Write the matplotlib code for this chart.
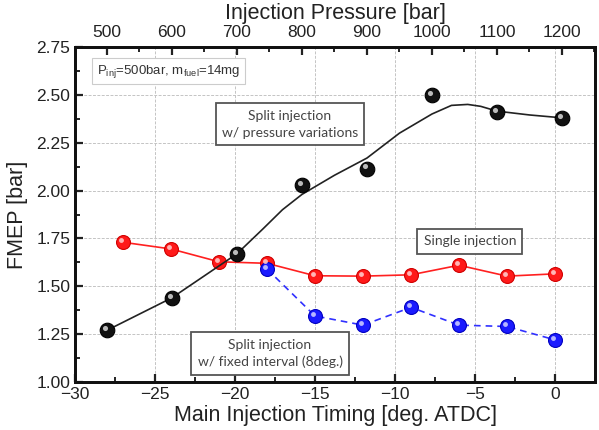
import numpy as np
import matplotlib
matplotlib.use("Agg")
import matplotlib.pyplot as plt
from matplotlib.ticker import MultipleLocator
from matplotlib.transforms import offset_copy

plt.rcParams['font.family'] = ['Liberation Sans', 'DejaVu Sans']

# single injection (red), main injection timing [deg. ATDC]
single_timing = [-27, -24, -21, -18, -15, -12, -9, -6, -3, 0]
single_fmep = [1.73, 1.695, 1.628, 1.62, 1.555, 1.553, 1.56, 1.61, 1.553, 1.565]

# split injection, fixed interval 8 deg (blue)
fixed_timing = [-18, -15, -12, -9, -6, -3, 0]
fixed_fmep = [1.59, 1.345, 1.297, 1.39, 1.297, 1.29, 1.22]

# split injection with pressure variations (black), injection pressure [bar]
press_bar = [500, 600, 700, 800, 900, 1000, 1100, 1200]
press_fmep = [1.27, 1.44, 1.67, 2.03, 2.115, 2.50, 2.41, 2.38]

# smooth fitted line through the black points
press_curve_bar = [500, 600, 700, 740, 770, 800, 850, 900, 950, 1000, 1030, 1055, 1075, 1100, 1150, 1200]
press_curve_fmep = [1.27, 1.44, 1.67, 1.80, 1.90, 1.98, 2.08, 2.17, 2.30, 2.40, 2.445, 2.45, 2.44, 2.415, 2.395, 2.38]


def sphere(ax, x, y, face, edge, shine, ms):
    ax.plot(x, y, 'o', ms=ms, mfc=face, mec=edge, mew=0.8, zorder=5)
    hl = offset_copy(ax.transData, fig=ax.figure, x=-1.6, y=1.6, units='points')
    ax.plot(x, y, 'o', ms=ms * 0.35, mfc=shine, mec='none', alpha=0.9,
            transform=hl, zorder=6)


fig = plt.figure(figsize=(5.99, 4.30), dpi=100)
ax = fig.add_axes([75 / 599, 48 / 430, 520 / 599, 335 / 430])

ax.set_xlim(-30, 2.5)
ax.set_ylim(1.0, 2.75)
ax.xaxis.set_major_locator(MultipleLocator(5))
ax.xaxis.set_minor_locator(MultipleLocator(2.5))
ax.yaxis.set_major_locator(MultipleLocator(0.25))
ax.yaxis.set_minor_locator(MultipleLocator(0.125))
ax.grid(True, which='major', color='#c4c4c4', ls=(0, (3, 1.5)), lw=0.7)
ax.set_axisbelow(True)

ax.tick_params(which='both', direction='in', top=False, right=False,
               labelsize=12.5, colors='#222222')
ax.tick_params(which='major', length=6, width=1.6)
ax.tick_params(which='minor', length=3.5, width=1.4)
for s in ax.spines.values():
    s.set_linewidth(2.0)
    s.set_color('#111111')

ax.set_xlabel('Main Injection Timing [deg. ATDC]', fontsize=15.5, color='#222222', labelpad=2)
ax.set_ylabel('FMEP [bar]', fontsize=15.5, color='#222222', labelpad=6)

# red and blue series
ax.plot(single_timing, single_fmep, '-', color='#ff2020', lw=1.2, zorder=3)
sphere(ax, single_timing, single_fmep, '#ff1a1a', '#d00000', '#ffc8c8', 10)
ax.plot(fixed_timing, fixed_fmep, '--', color='#3030ff', lw=1.2, dashes=(4, 3), zorder=3)
sphere(ax, fixed_timing, fixed_fmep, '#1a1aff', '#0000c0', '#c8c8ff', 10)

# top axis: injection pressure
ax2 = ax.twiny()
ax2.set_xlim(450.8, 1250.8)
ax2.set_ylim(1.0, 2.75)
ax2.xaxis.set_major_locator(MultipleLocator(100))
ax2.xaxis.set_minor_locator(MultipleLocator(50))
ax2.tick_params(which='both', direction='in', labelsize=12.5, colors='#222222', pad=5)
ax2.tick_params(which='major', length=6, width=1.6)
ax2.tick_params(which='minor', length=3.5, width=1.4)
ax2.set_xlabel('Injection Pressure [bar]', fontsize=15.5, color='#222222')
ax2.xaxis.set_label_coords(0.5, 1.083)
for s in ax2.spines.values():
    s.set_linewidth(2.0)
    s.set_color('#111111')

ax2.plot(press_curve_bar, press_curve_fmep, '-', color='#222222', lw=1.2, zorder=3)
sphere(ax2, press_bar, press_fmep, '#111111', '#000000', '#cfcfcf', 10.5)

# annotation boxes
ax.text(0.18, 0.928, r'P$_{\mathregular{inj}}$=500bar, m$_{\mathregular{fuel}}$=14mg',
        transform=ax.transAxes, ha='center', va='center', fontsize=9.5, color='#333333',
        bbox=dict(boxstyle='square,pad=0.35', fc='white', ec='#cccccc', lw=0.8))

box = dict(boxstyle='square,pad=0.45', fc='white', ec='#555555', lw=1.3)
ax.text(0.4135, 0.77, 'Split injection\nw/ pressure variations', transform=ax.transAxes,
        ha='center', va='center', fontsize=10, color='#444444', family='Lato',
        linespacing=1.5, bbox=box, zorder=7)
ax.text(0.7596, 0.42, 'Single injection', transform=ax.transAxes,
        ha='center', va='center', fontsize=10, color='#444444', family='Lato',
        bbox=box, zorder=7)
ax.text(0.375, 0.085, 'Split injection\nw/ fixed interval (8deg.)', transform=ax.transAxes,
        ha='center', va='center', fontsize=10, color='#444444', family='Lato',
        linespacing=1.5, bbox=box, zorder=7)

fig.savefig('out.png', dpi=100)
